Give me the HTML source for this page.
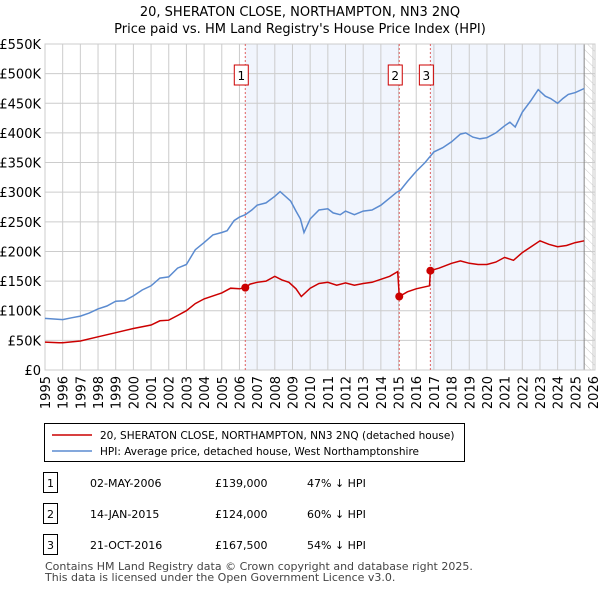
<!DOCTYPE html>
<html><head><meta charset="utf-8"><style>
body{margin:0;background:#fff;font-family:"Liberation Sans","DejaVu Sans",sans-serif;}
#wrap{position:relative;width:600px;height:590px;overflow:hidden}
svg text{font-family:"DejaVu Sans","Liberation Sans",sans-serif}
</style></head><body><div id="wrap">
<svg id="c" width="600" height="590"></svg>
</div>
<script>
const hpiYears=[1995,1995.5,1996,1996.5,1997,1997.5,1998,1998.5,1999,1999.5,2000,2000.5,2001,2001.5,2002,2002.5,2003,2003.5,2004,2004.5,2005,2005.3,2005.7,2006,2006.33,2006.7,2007,2007.5,2008,2008.3,2008.9,2009.2,2009.45,2009.65,2010,2010.5,2011,2011.3,2011.7,2012,2012.5,2013,2013.5,2014,2014.5,2014.9,2015.1,2015.5,2016,2016.5,2017,2017.5,2018,2018.5,2018.8,2019.2,2019.6,2020,2020.5,2021,2021.3,2021.6,2022,2022.5,2022.9,2023.3,2023.6,2024,2024.3,2024.6,2025,2025.5];
const hpiValues=[87,86,85,88,91,96,103,108,116,117,125,135,142,155,157,172,178,203,215,228,232,235,252,258,262,270,278,282,293,301,285,268,255,232,255,270,272,265,262,268,262,268,270,278,290,300,303,318,335,350,368,375,385,398,400,393,390,392,400,412,418,410,435,455,473,462,458,450,458,465,468,475];
const ppYears=[1995,1995.8,1996,1997,1998,1999,2000,2001,2001.5,2002,2002.5,2003,2003.5,2004,2004.5,2005,2005.5,2006,2006.33,2006.6,2007,2007.5,2008,2008.4,2008.8,2009.2,2009.5,2010,2010.5,2011,2011.5,2012,2012.5,2013,2013.5,2014,2014.5,2014.95,2015.04,2015.5,2016,2016.75,2016.8,2017.3,2018,2018.5,2019,2019.5,2020,2020.5,2021,2021.5,2022,2022.5,2023,2023.5,2024,2024.5,2025,2025.5];
const ppValues=[47,46,46,49,56,63,70,76,83,84,92,100,112,120,125,130,138,137,139,145,148,150,158,152,148,137,124,138,146,148,143,147,143,146,148,153,158,166,124,132,137,142,167.5,172,180,184,180,178,178,182,190,185,198,208,218,212,208,210,215,218];
const saleYears=[2006.33,2015.04,2016.8];
const saleValues=[139,124,167.5];
const saleLabels=["1","2","3"];
const yTicks=[0,50,100,150,200,250,300,350,400,450,500,550];
const yTickLabels=["£0","£50K","£100K","£150K","£200K","£250K","£300K","£350K","£400K","£450K","£500K","£550K"];
const xTicks=[1995,1996,1997,1998,1999,2000,2001,2002,2003,2004,2005,2006,2007,2008,2009,2010,2011,2012,2013,2014,2015,2016,2017,2018,2019,2020,2021,2022,2023,2024,2025,2026];

const L=45,R=593,T=44,B=370,Y0=1995,Y1=2026,VMAX=550;
const X=y=>L+(y-Y0)/(Y1-Y0)*(R-L);
const Yv=v=>B-v/VMAX*(B-T);
const svg=document.getElementById('c');
const NS='http://www.w3.org/2000/svg';
function mk(tag,attrs,parent){const e=document.createElementNS(NS,tag);for(const k in attrs)e.setAttribute(k,attrs[k]);(parent||svg).appendChild(e);return e;}

let t=mk('text',{x:300,y:16,'text-anchor':'middle','font-size':13});t.textContent='20, SHERATON CLOSE, NORTHAMPTON, NN3 2NQ';


t=mk('text',{x:300,y:33,'text-anchor':'middle','font-size':13});t.textContent="Price paid vs. HM Land Registry's House Price Index (HPI)";



let s=mk('rect',{x:X(saleYears[0]),y:T,width:X(saleYears[1])-X(saleYears[0]),height:B-T,fill:'#eef2fc',opacity:0.8});


s=mk('rect',{x:X(saleYears[2]),y:T,width:X(2025.5)-X(saleYears[2]),height:B-T,fill:'#eef2fc',opacity:0.8});


const defs=mk('defs',{});
const pat=mk('pattern',{id:'h',width:6,height:6,patternUnits:'userSpaceOnUse',patternTransform:'rotate(-45)'},defs);
mk('line',{x1:0,y1:0,x2:0,y2:6,stroke:'#ccc','stroke-width':1},pat);
s=mk('rect',{x:X(2025.5),y:T,width:R+2-X(2025.5),height:B-T,fill:'url(#h)'});



yTicks.forEach((v,i)=>{
 let g=mk('line',{x1:L,x2:R+2,y1:Yv(v),y2:Yv(v),stroke:'#cccccc','stroke-width':1});
 
 
 let tx=mk('text',{x:L-4,y:Yv(v)+5,'text-anchor':'end','font-size':13,fill:'#000'});tx.textContent=yTickLabels[i];
 
 
});
xTicks.forEach(y=>{
 let g=mk('line',{x1:X(y),x2:X(y),y1:T,y2:B,stroke:'#cccccc','stroke-width':1});
 
 
 let tx=mk('text',{x:0,y:0,'text-anchor':'end','font-size':13,transform:`translate(${X(y)+5},${B+6}) rotate(-90)`});tx.textContent=y;
 
 
});
s=mk('line',{x1:X(2025.5),x2:X(2025.5),y1:T,y2:B,stroke:'#888','stroke-width':1});


s=mk('rect',{x:L,y:T,width:R+2-L,height:B-T,fill:'none',stroke:'#cccccc'});



saleYears.forEach((y,i)=>{
 let l=mk('line',{x1:X(y),x2:X(y),y1:T,y2:B,stroke:'#e06060','stroke-width':1,'stroke-dasharray':'2,2'});
 
 
 let r=mk('rect',{x:X(y)-11,y:65,width:14,height:20,fill:'#fff',stroke:'#cc0000'});
 
 
 let tx=mk('text',{x:X(y)-4,y:80,'text-anchor':'middle','font-size':12});tx.textContent=saleLabels[i];
 
 
});

function path(xs,vs,col,name){
 let d=xs.map((y,i)=>(i?'L':'M')+X(y).toFixed(1)+','+Yv(vs[i]).toFixed(1)).join('');
 let p=mk('path',{d:d,fill:'none',stroke:col,'stroke-width':1.5});
 
 
}
path(hpiYears,hpiValues,'#5b8bd0','hpi-line');
path(ppYears,ppValues,'#cc0000','price-paid-line');
saleYears.forEach((y,i)=>{
 let c=mk('circle',{cx:X(y),cy:Yv(saleValues[i]),r:4,fill:'#cc0000'});
 
 
});

let lg=mk('rect',{x:44.5,y:423.5,width:420,height:38,fill:'#fff',stroke:'#000'});


mk('line',{x1:52,x2:92,y1:435,y2:435,stroke:'#cc0000','stroke-width':1.5});
t=mk('text',{x:100,y:439,'font-size':10.5});t.textContent='20, SHERATON CLOSE, NORTHAMPTON, NN3 2NQ (detached house)';


mk('line',{x1:52,x2:92,y1:451,y2:451,stroke:'#5b8bd0','stroke-width':1.5});
t=mk('text',{x:100,y:455,'font-size':10.5});t.textContent='HPI: Average price, detached house, West Northamptonshire';



const rows=[["1","02-MAY-2006","£139,000","47% ↓ HPI",483],["2","14-JAN-2015","£124,000","60% ↓ HPI",514],["3","21-OCT-2016","£167,500","54% ↓ HPI",545]];
rows.forEach(r=>{
 let b=mk('rect',{x:43.5,y:r[4]-10.5,width:14,height:20,fill:'#fff',stroke:'#000'});
 
 
 let a=mk('text',{x:50.5,y:r[4]+4,'text-anchor':'middle','font-size':11});a.textContent=r[0];
 
 
 a=mk('text',{x:90,y:r[4]+4,'font-size':11});a.textContent=r[1];
 
 
 a=mk('text',{x:215,y:r[4]+4,'font-size':11});a.textContent=r[2];
 
 
 a=mk('text',{x:307,y:r[4]+4,'font-size':11});a.textContent=r[3];
 
 
});
t=mk('text',{x:45,y:570,'font-size':11,fill:'#444'});t.textContent='Contains HM Land Registry data © Crown copyright and database right 2025.';


t=mk('text',{x:45,y:581,'font-size':11,fill:'#444'});t.textContent='This data is licensed under the Open Government Licence v3.0.';


</script></body></html>
